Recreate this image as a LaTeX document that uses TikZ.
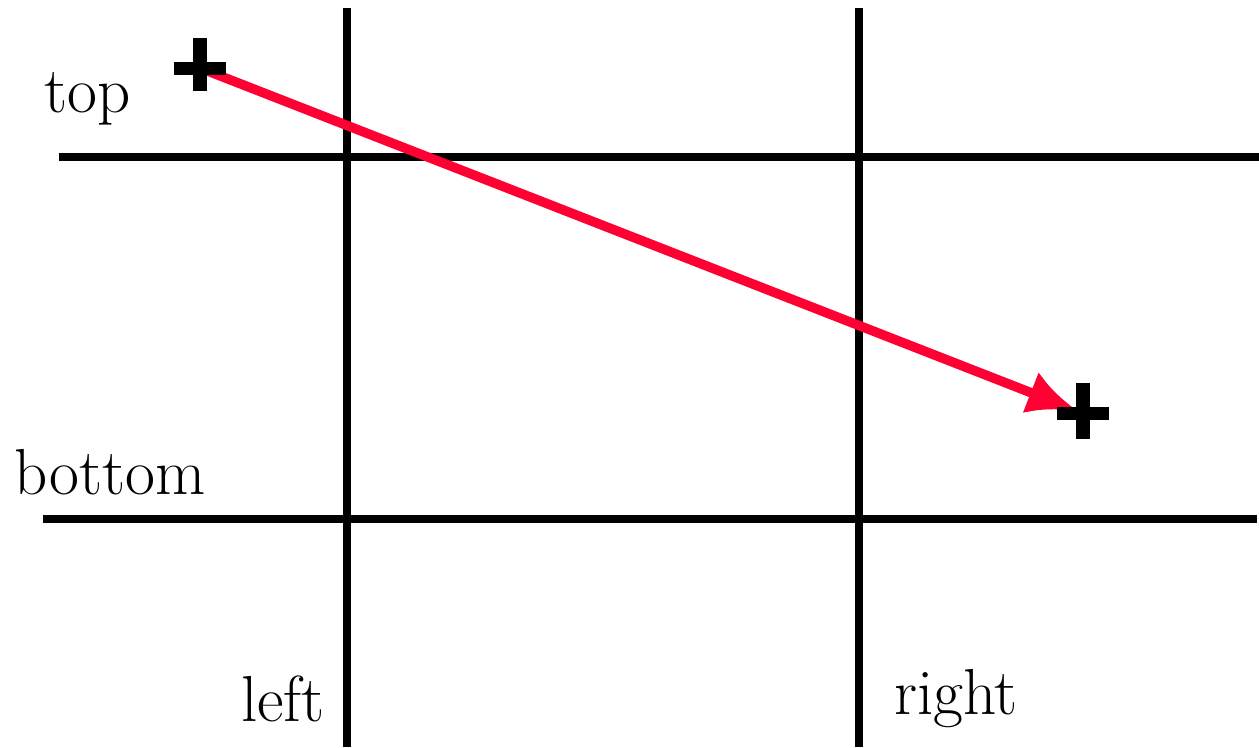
\documentclass[tikz,border=0pt]{standalone}
\usepackage{tikz}
\usetikzlibrary{
  arrows.meta,
  calc,
  positioning
}
\definecolor{clipred}{RGB}{255,0,51}
\tikzset{
  clipLine/.style={
    line width=0.085cm,
    draw=black
  },
  clipLabel/.style={
    font=\fontsize{18.5}{22}\selectfont,
    inner sep=0pt
  },
  clipMark/.style={
    line width=0.13cm,
    draw=black
  },
  clipArrow/.style={
    -{Latex[length=0.5cm,width=0.44cm]},
    line width=0.095cm,
    draw=clipred,
    shorten >=0.06cm
  }
}

\begin{document}
\begin{tikzpicture}[x=0.01cm,y=-0.01cm]
  \useasboundingbox (0,0) rectangle (1259,747);

  % clipping window edges
  \coordinate (topW) at (59,157);
  \coordinate (topE) at (1259,157);
  \coordinate (botW) at (43,519);
  \coordinate (botE) at (1257,519);
  \coordinate (leftN) at (347,8);
  \coordinate (leftS) at (347,747);
  \coordinate (rightN) at (859,8);
  \coordinate (rightS) at (859,747);

  \draw[clipLine] (topW) -- (topE);
  \draw[clipLine] (botW) -- (botE);
  \draw[clipLine] (leftN) -- (leftS);
  \draw[clipLine] (rightN) -- (rightS);

  \node[clipLabel] (topLabel) at (88,99) {top};
  \node[clipLabel] (bottomLabel) at (110,472) {bottom};
  \node[clipLabel] (leftLabel) at (283,699) {left};
  \node[clipLabel] (rightLabel) at (956,699) {right};

  % segment end points
  \coordinate (start) at (200,68);
  \coordinate (finish) at (1083,413);

  \draw[clipArrow] (start) -- (finish);

  \draw[clipMark] ($(start)+(-26,0)$) -- ($(start)+(26,0)$);
  \draw[clipMark] ($(start)+(0,-30)$) -- ($(start)+(0,23)$);
  \draw[clipMark] ($(finish)+(-26,0)$) -- ($(finish)+(26,0)$);
  \draw[clipMark] ($(finish)+(0,-30)$) -- ($(finish)+(0,26)$);
\end{tikzpicture}
\end{document}
